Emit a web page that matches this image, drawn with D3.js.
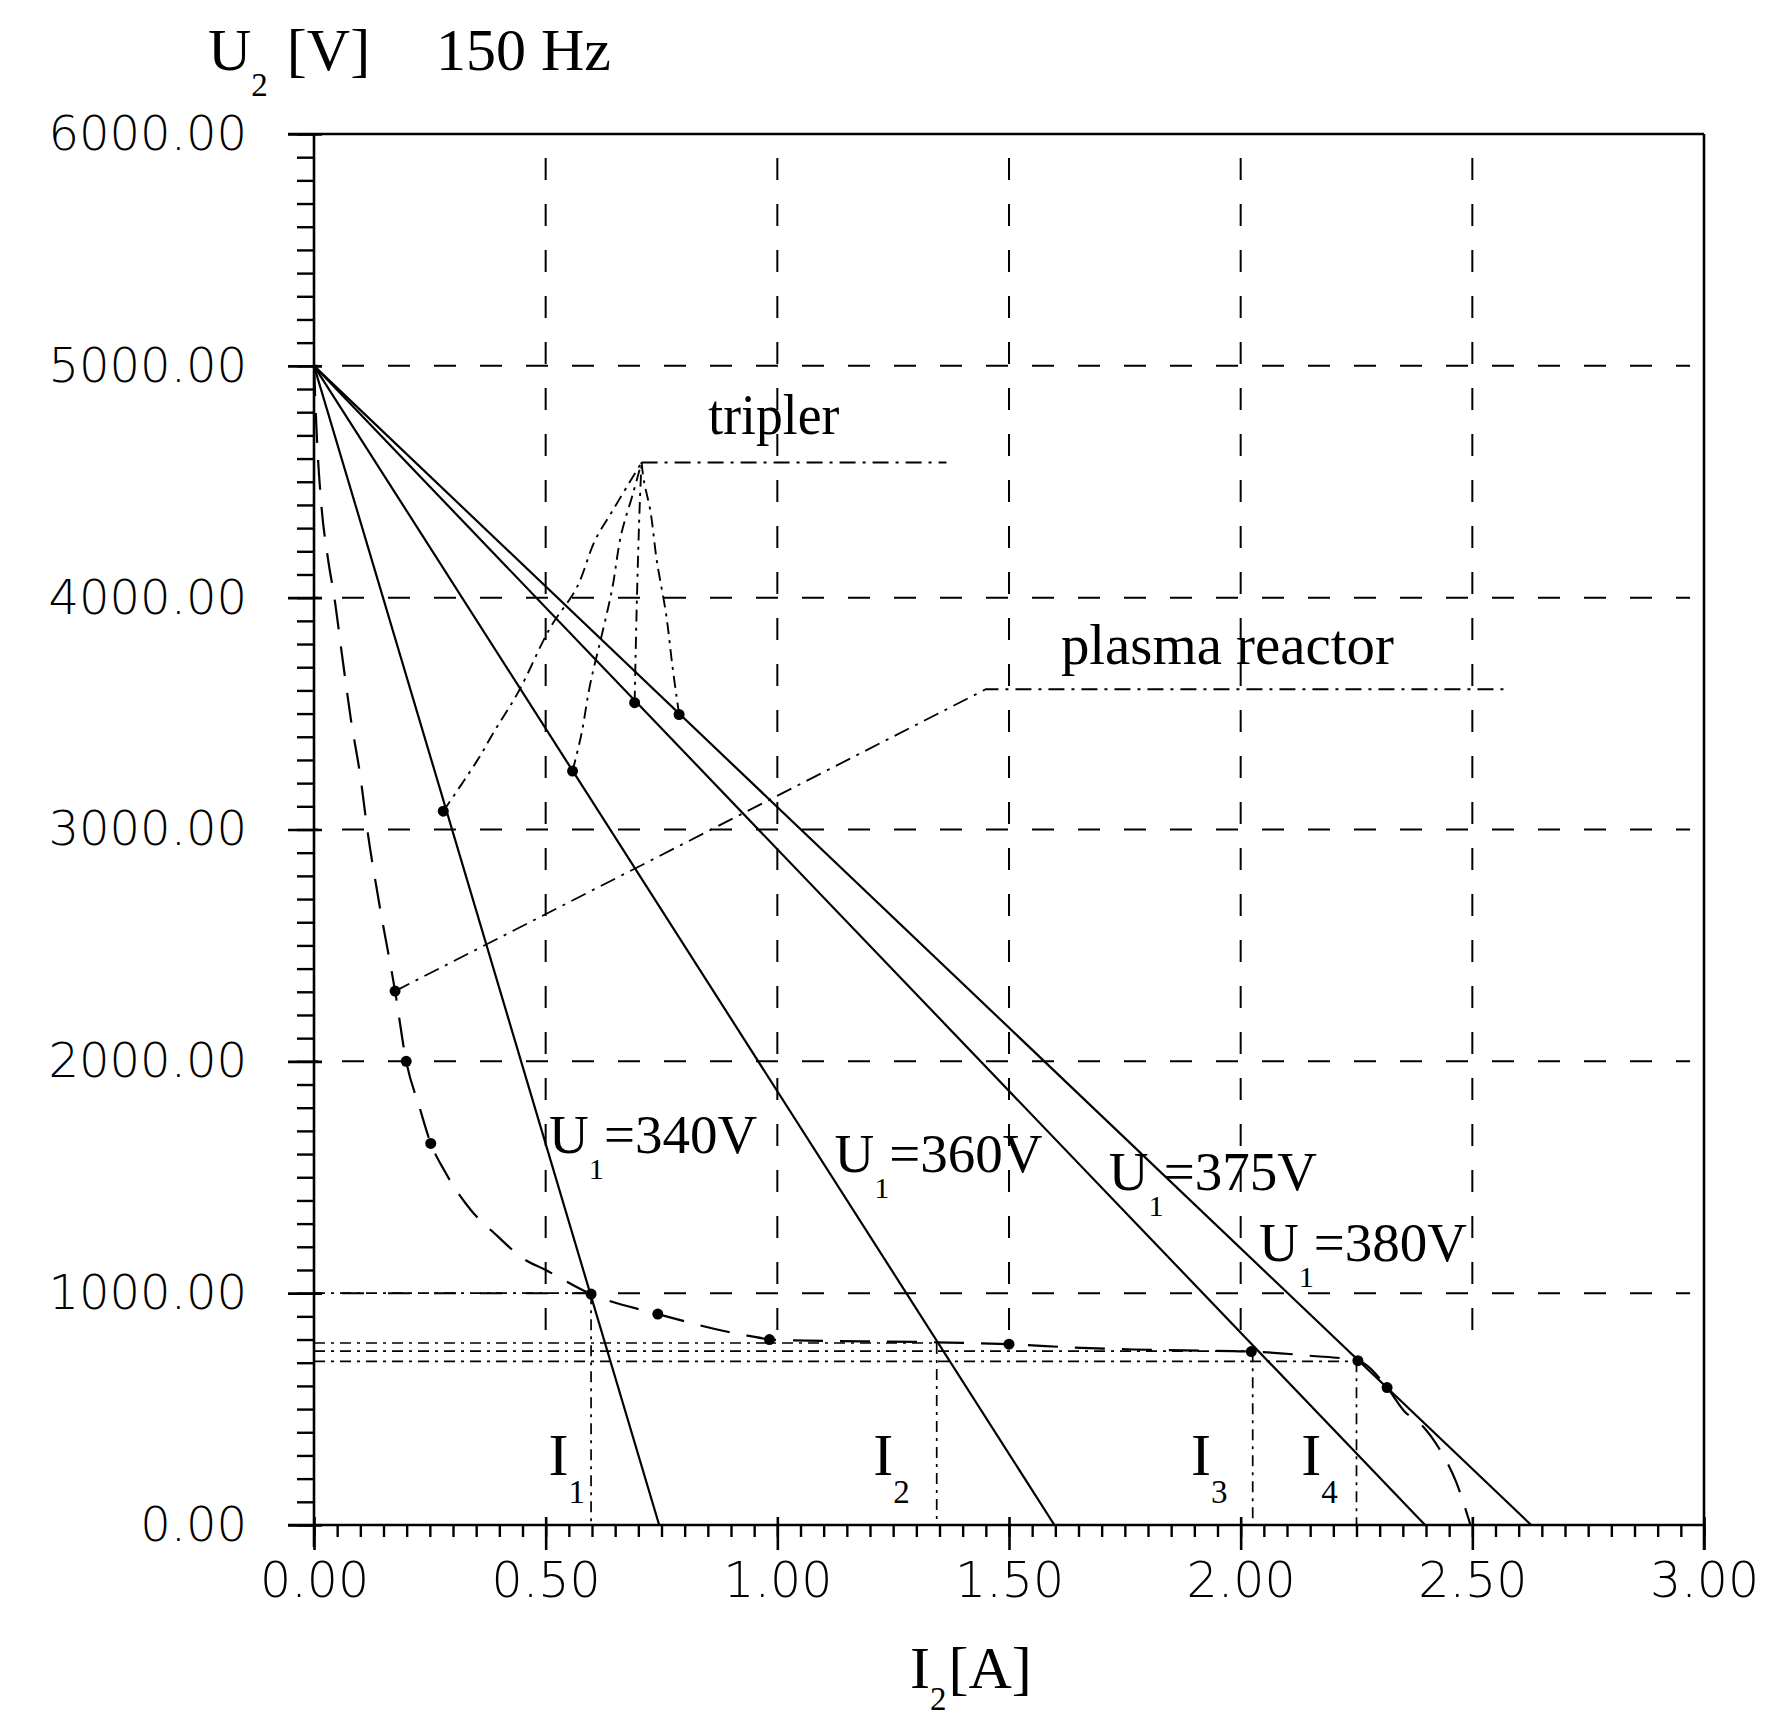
<!DOCTYPE html>
<html>
<head>
<meta charset="utf-8">
<script src="https://cdn.jsdelivr.net/npm/d3@7"></script>
<style>
  body { margin: 0; background: #fff; }
  svg { display: block; }
  .serif { font-family: "Liberation Serif", "Times New Roman", serif; fill: #000; }
  .axis text { font-family: "DejaVu Sans", sans-serif; font-weight: 300; fill: #000; }
</style>
</head>
<body>
<svg id="chart" width="1774" height="1719"></svg>
<script>
// --- data (I2 in A, U2 in V) ---
const openCircuitU = 5000;                       // all load lines start here at I2 = 0
const loadVoltages = ["340V", "360V", "375V", "380V"];
const shortCircuitI = [0.745, 1.598, 2.398, 2.627]; // where each load line meets U2 = 0

// plasma reactor characteristic (dashed)
const plasmaCurve = [
  [0.0, 5000], [0.006, 4700], [0.015, 4420], [0.03, 4170], [0.044, 4000],
  [0.06, 3760], [0.08, 3470], [0.1, 3230], [0.115, 3000], [0.14, 2690],
  [0.175, 2303], [0.199, 2000], [0.228, 1800], [0.252, 1646], [0.281, 1530],
  [0.338, 1360], [0.396, 1246], [0.454, 1146], [0.497, 1103], [0.598, 996],
  [0.742, 910], [0.935, 817], [1.0, 798], [1.344, 788], [1.5, 780],
  [1.656, 764], [1.768, 757], [1.88, 753], [2.023, 748], [2.15, 730],
  [2.253, 709], [2.316, 593], [2.353, 491], [2.39, 433], [2.428, 331],
  [2.465, 186], [2.496, 0]
];
const plasmaMarkers = [
  [0.175, 2303], [0.199, 2000], [0.252, 1646], [0.598, 996], [0.742, 910],
  [0.983, 800], [1.5, 780], [2.023, 748], [2.253, 709], [2.316, 593]
];

// tripler curves, each from a point on a load line up to the common peak
const triplerPeak = [0.707, 4583];
const triplerCurve340 = [[0.279, 3079], [0.356, 3309], [0.385, 3410], [0.442, 3597], [0.51, 3871],
                         [0.567, 4043], [0.606, 4245], [0.644, 4374], [0.683, 4504], triplerPeak];
const triplerCurve360 = [[0.558, 3252], [0.577, 3410], [0.596, 3626], [0.625, 3871], [0.644, 4043],
                         [0.663, 4273], [0.688, 4446], triplerPeak];
const triplerCurve375 = [[0.692, 3547], [0.697, 4000], [0.703, 4400], triplerPeak];
const triplerCurve380 = [[0.788, 3496], [0.774, 3698], [0.760, 3928], [0.740, 4158], [0.726, 4374],
                         [0.712, 4504], triplerPeak];
const triplerCurves = [triplerCurve340, triplerCurve360, triplerCurve375, triplerCurve380];

// operating points I1..I4
const operatingNames = ["1", "2", "3", "4"];
const operatingI = [0.598, 1.344, 2.026, 2.25];
const operatingU = [1000, 785, 750, 706];

// leader lines of the two annotations
const triplerLeader = [triplerPeak, [1.365, 4583]];
const plasmaLeader = [[0.175, 2303], [1.45, 3605], [2.57, 3605]];

const xTicksMajor = [0, 0.5, 1, 1.5, 2, 2.5, 3];
const yTicksMajor = [0, 1000, 2000, 3000, 4000, 5000, 6000];

// --- layout ---
const svg = d3.select("#chart");
const x = d3.scaleLinear().domain([0, 3]).range([314, 1704]);
const y = d3.scaleLinear().domain([0, 6000]).range([1525, 134]);

const line = d3.line().x(d => x(d[0])).y(d => y(d[1]));

// grid: vertical lines stop at the operating-point level, horizontal run across
const grid = svg.append("g").attr("stroke", "#000").attr("stroke-width", 2)
  .attr("stroke-dasharray", "22,24").attr("fill", "none");
[0.5, 1, 1.5, 2, 2.5].forEach(v => {
  grid.append("line").attr("x1", x(v)).attr("x2", x(v))
    .attr("y1", y(6000)).attr("y2", y(780)).attr("stroke-dashoffset", 22);
});
[1000, 2000, 3000, 4000, 5000].forEach(v => {
  grid.append("line").attr("x1", x(0)).attr("x2", x(2.97))
    .attr("y1", y(v)).attr("y2", y(v)).attr("stroke-dashoffset", 18);
});

// axes
const xMinor = d3.range(0, 3.0001, 0.05);
const yMinor = d3.range(0, 6000.1, 100);

svg.append("g").attr("class", "axis")
  .attr("transform", `translate(0,${y(0)})`)
  .call(d3.axisBottom(x).tickValues(xMinor).tickSize(12).tickSizeOuter(0).tickFormat(""))
  .call(g => g.select(".domain").remove())
  .call(g => g.selectAll("line").attr("stroke-width", 2.4));

svg.append("g").attr("class", "axis")
  .attr("transform", `translate(0,${y(0)})`)
  .call(d3.axisBottom(x).tickValues(xTicksMajor).tickSize(25).tickPadding(12).tickSizeOuter(0)
    .tickFormat(d3.format(".2f")))
  .call(g => g.select(".domain").remove())
  .call(g => g.selectAll("line").attr("stroke-width", 2.6).attr("y1", -8))
  .call(g => g.selectAll("text").attr("font-size", 49));

svg.append("g").attr("class", "axis")
  .attr("transform", `translate(${x(0)},0)`)
  .call(d3.axisLeft(y).tickValues(yMinor).tickSize(17).tickSizeOuter(0).tickFormat(""))
  .call(g => g.select(".domain").remove())
  .call(g => g.selectAll("line").attr("stroke-width", 2.4));

svg.append("g").attr("class", "axis")
  .attr("transform", `translate(${x(0)},0)`)
  .call(d3.axisLeft(y).tickValues(yTicksMajor).tickSize(26).tickPadding(41).tickSizeOuter(0)
    .tickFormat(d3.format(".2f")))
  .call(g => g.select(".domain").remove())
  .call(g => g.selectAll("line").attr("stroke-width", 2.6).attr("x1", 8))
  .call(g => g.selectAll("text").attr("font-size", 48));

// frame
const frame = svg.append("g").attr("stroke", "#000").attr("stroke-width", 2.6).attr("fill", "none");
frame.append("line").attr("x1", x(0) - 26).attr("x2", x(3)).attr("y1", y(0)).attr("y2", y(0));
frame.append("line").attr("x1", x(0)).attr("x2", x(0)).attr("y1", y(6000)).attr("y2", y(0) + 22);
frame.append("line").attr("x1", x(0) - 26).attr("x2", x(3)).attr("y1", y(6000)).attr("y2", y(6000));
frame.append("line").attr("x1", x(3)).attr("x2", x(3)).attr("y1", y(6000)).attr("y2", y(0) + 25);

// operating point guides (dash-dot)
const guides = svg.append("g").attr("stroke", "#000").attr("stroke-width", 1.7)
  .attr("stroke-dasharray", "11,6,3,6").attr("fill", "none");
operatingI.forEach((iv, k) => {
  guides.append("path").attr("d", line([[0, operatingU[k]], [iv, operatingU[k]]]));
  guides.append("path").attr("d", line([[iv, operatingU[k]], [iv, 0]]));
});

// load lines
svg.append("g").selectAll("path").data(shortCircuitI).join("path")
  .attr("d", d => line([[0, openCircuitU], [d, 0]]))
  .attr("stroke", "#000").attr("stroke-width", 2.2).attr("fill", "none");

// plasma reactor characteristic
const smooth = d3.line().x(d => x(d[0])).y(d => y(d[1])).curve(d3.curveMonotoneX);
svg.append("path").attr("d", smooth(plasmaCurve))
  .attr("stroke", "#000").attr("stroke-width", 2.2).attr("stroke-dasharray", "30,17").attr("fill", "none");

// tripler curves
const triLine = d3.line().x(d => x(d[0])).y(d => y(d[1])).curve(d3.curveCatmullRom.alpha(0.5));
svg.append("g").selectAll("path").data(triplerCurves).join("path")
  .attr("d", triLine)
  .attr("stroke", "#000").attr("stroke-width", 1.9).attr("stroke-dasharray", "12,6,3,6").attr("fill", "none");

// leaders
svg.append("g").selectAll("path").data([triplerLeader, plasmaLeader]).join("path")
  .attr("d", line)
  .attr("stroke", "#000").attr("stroke-width", 1.8).attr("stroke-dasharray", "16,7,3,7").attr("fill", "none");

// markers
svg.append("g").selectAll("circle")
  .data(plasmaMarkers.concat(triplerCurves.map(c => c[0])))
  .join("circle")
  .attr("cx", d => x(d[0])).attr("cy", d => y(d[1])).attr("r", 5.5).attr("fill", "#000");

// --- text ---
const txt = (px, py, size) => svg.append("text").attr("class", "serif")
  .attr("x", px).attr("y", py).attr("font-size", size);

// "main", subscript, then the rest back on the baseline
function subLabel(px, py, size, main, sub, rest, subDrop, restDx) {
  const t = txt(px, py, size);
  t.append("tspan").text(main);
  t.append("tspan").attr("font-size", size * 0.55).attr("dy", subDrop).text(sub);
  if (rest) t.append("tspan").attr("dy", -subDrop).attr("dx", restDx || 0).text(rest);
  return t;
}

// axis titles
subLabel(208, 70, 60, "U", "2", " [V]", 26, 4);
txt(436, 70, 60).text("150 Hz");
subLabel(910, 1688, 60, "I", "2", "[A]", 22, 2);

// load line labels: U1=...
const uLabelPos = [[0.516, 1603], [1.132, 1524], [1.724, 1443], [2.048, 1138]];
loadVoltages.forEach((v, k) => {
  const [lx, ly] = uLabelPos[k];
  subLabel(x(lx) - 4, y(ly), 55, "U", "1", "=" + v, 26, 0);
});

// operating current labels I1..I4
const iLabelOffset = [0.092, 0.137, 0.133, 0.119];
operatingI.forEach((iv, k) => {
  subLabel(x(iv - iLabelOffset[k]), y(215), 60, "I", operatingNames[k], null, 28);
});

txt(x(0.851), y(4705), 56).text("tripler")
  .attr("textLength", 131).attr("lengthAdjust", "spacingAndGlyphs");
txt(x(1.612), y(3712), 57).text("plasma reactor")
  .attr("textLength", 333).attr("lengthAdjust", "spacingAndGlyphs");
</script>
</body>
</html>
